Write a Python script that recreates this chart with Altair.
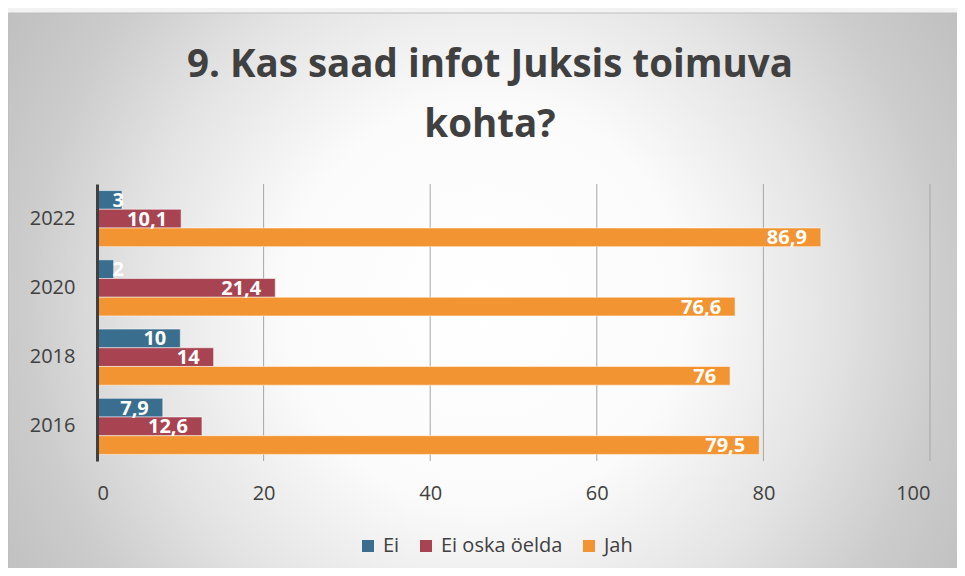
import altair as alt
import pandas as pd

# ---- data ----
years = ["2016", "2018", "2020", "2022"]
series = ["Ei", "Ei oska öelda", "Jah"]
ei = [7.9, 10, 2, 3]
ei_oska = [12.6, 14, 21.4, 10.1]
jah = [79.5, 76, 76.6, 86.9]
colors = ["#3A6E8F", "#A84452", "#F29431"]
x_ticks = [0, 20, 40, 60, 80, 100]
grid_values = [20, 40, 60, 80, 100]
title_lines = ["9. Kas saad infot Juksis toimuva", "kohta?"]

rows = []
for s, vals in zip(series, [ei, ei_oska, jah]):
    for y, v in zip(years, vals):
        rows.append({"year": y, "series": s, "value": v,
                     "label": f"{v:g}".replace(".", ",")})
df = pd.DataFrame(rows)

W, H = 833, 277
FONT = "Open Sans"
TXT = "#404040"
year_order = years[::-1]

x_scale = alt.Scale(domain=[0, 100], nice=False, zero=True)
y_enc = alt.Y("year:N", sort=year_order,
              scale=alt.Scale(paddingInner=0.19, paddingOuter=0.095),
              axis=alt.Axis(title=None, labelFont=FONT, labelFontSize=20,
                            labelColor=TXT, labelPadding=22, ticks=False,
                            tickSize=0, domainColor=TXT, domainWidth=3,
                            grid=False, zindex=1))
yoff = alt.YOffset("series:N", sort=series,
                   scale=alt.Scale(paddingInner=0, paddingOuter=0))

gradient = {
    "gradient": "radial",
    "x1": 0.497, "y1": 0.51, "r1": 0,
    "x2": 0.497, "y2": 0.51, "r2": 0.6,
    "stops": [
        {"offset": 0, "color": "#ffffff"},
        {"offset": 0.35, "color": "#fbfbfb"},
        {"offset": 0.6, "color": "#e4e4e4"},
        {"offset": 0.8, "color": "#cccccc"},
        {"offset": 1, "color": "#bdbdbd"},
    ],
}

bg = alt.Chart(alt.Data(values=[{}])).mark_rect(
    fill=gradient, stroke="#bfbfbf", strokeWidth=1, clip=False
).encode(x=alt.value(-88.5), x2=alt.value(870), y=alt.value(-171), y2=alt.value(390))

title = alt.Chart(alt.Data(values=[{}])).mark_text(
    text=title_lines, font=FONT, fontSize=38.5, fontWeight="bold", color=TXT,
    lineHeight=60, align="center", baseline="alphabetic"
).encode(x=alt.value(393), y=alt.value(-107))

grid = alt.Chart(pd.DataFrame({"g": grid_values})).mark_rule(
    color="#a6a6a6", strokeWidth=1
).encode(x=alt.X("g:Q", scale=x_scale, title=None))

bars = alt.Chart(df).mark_bar(
    stroke="white", strokeOpacity=0.5, strokeWidth=1
).encode(
    x=alt.X("value:Q", scale=x_scale,
            axis=alt.Axis(values=x_ticks, title=None, grid=False, ticks=False,
                          tickSize=0, domain=False, labelFont=FONT,
                          labelFontSize=20, labelColor=TXT, labelPadding=22,
                          zindex=1)),
    y=y_enc,
    yOffset=yoff,
    color=alt.Color("series:N", sort=series,
                    scale=alt.Scale(domain=series, range=colors),
                    legend=alt.Legend(title=None, orient="none", legendX=261,
                                      legendY=352, direction="horizontal",
                                      symbolType="square", symbolSize=144,
                                      symbolStrokeWidth=0, labelFont=FONT,
                                      labelFontSize=20, labelColor=TXT,
                                      labelOffset=5, columnPadding=16,
                                      padding=0)),
)

labels = alt.Chart(df).transform_calculate(
    pos="max(datum.value, 4.9)"
).mark_text(
    align="right", baseline="middle", dx=-14, dy=1, font=FONT,
    fontWeight="bold", fontSize=20, color="white"
).encode(
    x=alt.X("pos:Q", scale=x_scale),
    y=y_enc,
    yOffset=yoff,
    text="label:N",
)

chart = alt.layer(bg, title, grid, bars, labels).properties(
    width=W, height=H,
    padding={"left": 89, "top": 176, "right": 27, "bottom": 107},
    autosize=alt.AutoSizeParams(type="none"),
    background="#f2f2f2",
).configure_view(stroke=None)

chart.save("out.html", embed_options={"renderer": "svg", "actions": False})
